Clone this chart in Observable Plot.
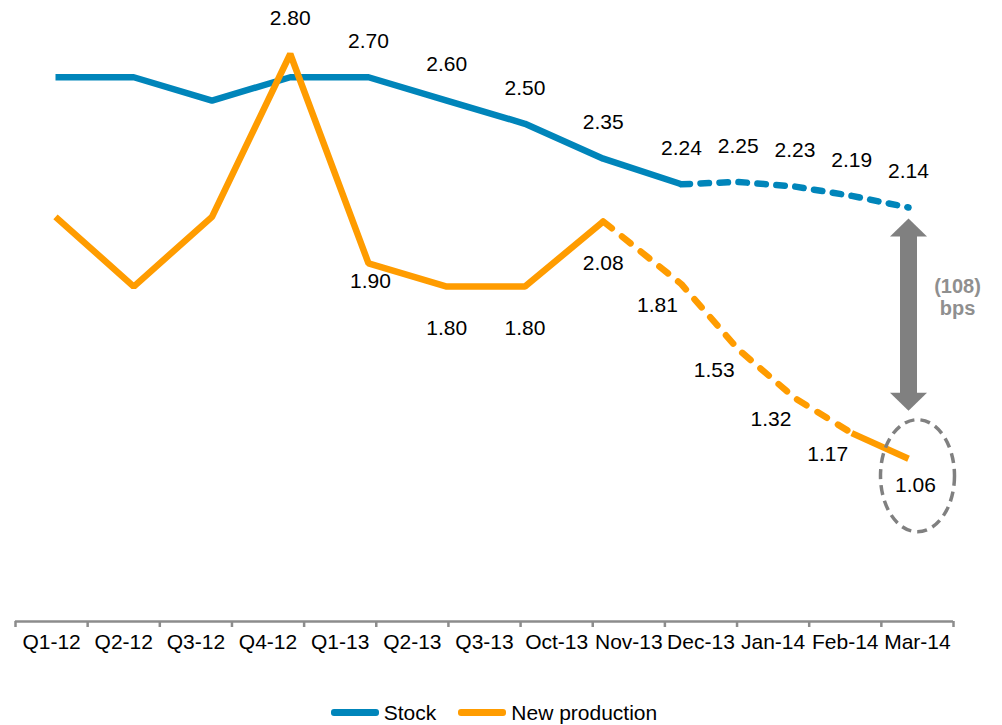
<!DOCTYPE html>
<html>
<head>
<meta charset="utf-8">
<script src="https://cdn.jsdelivr.net/npm/d3@7"></script>
<script src="https://cdn.jsdelivr.net/npm/@observablehq/plot@0.6"></script>
<style>
  html, body { margin: 0; padding: 0; background: #fff; overflow: hidden; }
  body { font-family: "Liberation Sans", Arial, sans-serif; }
  #wrap { position: relative; width: 1002px; height: 670px; }
  #wrap svg { position: absolute; left: 0; top: 0; }
  #legend { display: flex; justify-content: center; align-items: center; gap: 22px;
            padding-top: 30px; padding-right: 14px; height: 25px; font-size: 21px; color: #000; }
  .item { display: flex; align-items: center; }
  .sw { display: inline-block; width: 48px; height: 7px; border-radius: 3px; margin-right: 5px; }
</style>
</head>
<body>
<div id="wrap"></div>
<div id="legend"></div>
<script>
// ---------- data ----------
const categories = ["Q1-12","Q2-12","Q3-12","Q4-12","Q1-13","Q2-13","Q3-13","Oct-13","Nov-13","Dec-13","Jan-14","Feb-14","Mar-14"];
const stock      = [2.70, 2.70, 2.60, 2.70, 2.70, 2.60, 2.50, 2.35, 2.24, 2.25, 2.23, 2.19, 2.14];
const newProd    = [2.10, 1.80, 2.10, 2.80, 1.90, 1.80, 1.80, 2.08, 1.81, 1.53, 1.32, 1.17, 1.06];
const seriesNames = ["Stock", "New production"];
const stockDashFrom = 8;               // projected part of Stock
const newDashFrom = 7, newDashTo = 11; // projected (dashed) part of New production

// ---------- styles ----------
const BLUE = "#0085BA", ORANGE = "#FF9C00", GREY = "#808080", AXIS = "#8C8C8C";
const FONT = "'Liberation Sans', Arial, sans-serif";
const FS = 21;

const stockRows = stock.map((v, i) => ({i, v, cat: categories[i]}));
const newRows = newProd.map((v, i) => ({i, v, cat: categories[i]}));
const last = categories.length - 1;
const gap = [{i: last, top: stock[last], bottom: newProd[last],
              bps: Math.round((stock[last] - newProd[last]) * 100)}];

const k = 0.5523;
const ellipseSymbol = {draw(ctx) {
  const rx = 37, ry = 56;
  ctx.moveTo(rx, 0);
  ctx.bezierCurveTo(rx, ry * k, rx * k, ry, 0, ry);
  ctx.bezierCurveTo(-rx * k, ry, -rx, ry * k, -rx, 0);
  ctx.bezierCurveTo(-rx, -ry * k, -rx * k, -ry, 0, -ry);
  ctx.bezierCurveTo(rx * k, -ry, rx, -ry * k, rx, 0);
  ctx.closePath();
}};
const headUp = {draw(ctx) { ctx.moveTo(0, -9); ctx.lineTo(18.5, 9); ctx.lineTo(-18.5, 9); ctx.closePath(); }};
const headDown = {draw(ctx) { ctx.moveTo(0, 9); ctx.lineTo(18.5, -9); ctx.lineTo(-18.5, -9); ctx.closePath(); }};

const solid = {strokeWidth: 6.5, strokeLinejoin: "miter", strokeLinecap: "butt"};
const label = {x: "i", y: "v", text: d => d.v.toFixed(2), fontSize: FS, fill: "#000"};

const lines = Plot.plot({
  width: 1002, height: 670,
  marginTop: 0, marginBottom: 49,
  style: {fontFamily: FONT, fontSize: FS + "px", background: "transparent"},
  x: {type: "linear", domain: [0, 8, 12], range: [55, 681, 908], axis: null},
  y: {domain: [0.36, 3.03], axis: null},
  marks: [
    Plot.line(stockRows.filter(d => d.i <= stockDashFrom), {x: "i", y: "v", stroke: BLUE, ...solid}),
    Plot.line(stockRows.filter(d => d.i >= stockDashFrom), {x: "i", y: "v", stroke: BLUE, strokeWidth: 6.5, strokeLinecap: "round", strokeDasharray: "8.5,10.5"}),
    Plot.line(newRows.filter(d => d.i <= newDashFrom), {x: "i", y: "v", stroke: ORANGE, ...solid}),
    Plot.line(newRows.filter(d => d.i >= newDashFrom && d.i <= newDashTo), {x: "i", y: "v", stroke: ORANGE, strokeWidth: 6.5, strokeLinecap: "round", strokeDasharray: "11,13"}),
    Plot.line(newRows.filter(d => d.i >= newDashTo), {x: "i", y: "v", stroke: ORANGE, ...solid}),
    // data labels
    Plot.text(stockRows.filter(d => d.i >= 4), {...label, dy: -36}),
    Plot.text(newRows.filter(d => d.i === 3), {...label, dy: -36}),
    Plot.text(newRows.filter(d => d.i === 4), {...label, dx: 2, dy: 18}),
    Plot.text(newRows.filter(d => d.i >= 5 && d.i <= 7), {...label, dy: 42}),
    Plot.text(newRows.filter(d => d.i >= 8 && d.i < last), {...label, dx: -24, dy: 21}),
    Plot.text(newRows.filter(d => d.i === last), {...label, dx: 7, dy: 27}),
    // gap arrow
    Plot.ruleX(gap, {x: "i", y1: "top", y2: "bottom", stroke: GREY, strokeWidth: 17, insetTop: 27, insetBottom: 64}),
    Plot.dot(gap, {x: "i", y: "top", symbol: headUp, r: 10, fill: GREY, dy: 20}),
    Plot.dot(gap, {x: "i", y: "bottom", symbol: headDown, r: 10, fill: GREY, dy: -57}),
    Plot.text(gap, {x: "i", y: d => (d.top + d.bottom) / 2, text: d => `(${d.bps})\nbps`,
      dx: 49, dy: -36, fontSize: 20, fontWeight: "bold", fill: "#8F8F8F", lineHeight: 1.1}),
    Plot.dot(gap, {x: "i", y: "bottom", symbol: ellipseSymbol, r: 10, fill: "none", stroke: GREY,
      strokeWidth: 3.5, strokeDasharray: "10,6", dx: 9, dy: 17})
  ]
});

const axis = Plot.plot({
  width: 1002, height: 670,
  marginTop: 0, marginBottom: 49, marginLeft: 15, marginRight: 49,
  style: {fontFamily: FONT, fontSize: FS + "px", background: "transparent"},
  x: {type: "linear", domain: [0, categories.length]},
  y: {domain: [0, 1], axis: null},
  marks: [
    Plot.ruleY([0], {stroke: AXIS, strokeWidth: 2.5}),
    Plot.axisX({ticks: d3.range(categories.length + 1), tickSize: 6, tickFormat: () => "",
                stroke: AXIS, strokeWidth: 2.5}),
    Plot.text(categories, {x: (d, i) => i + 0.5, text: d => d, frameAnchor: "bottom",
                           lineAnchor: "top", dy: 13, fontSize: FS, fill: "#000"})
  ]
});

const wrap = document.getElementById("wrap");
wrap.appendChild(lines);
wrap.appendChild(axis);

const legend = document.getElementById("legend");
[[seriesNames[0], BLUE], [seriesNames[1], ORANGE]].forEach(([name, c]) => {
  const it = document.createElement("div");
  it.className = "item";
  it.innerHTML = `<span class="sw" style="background:${c}"></span><span>${name}</span>`;
  legend.appendChild(it);
});
</script>
</body>
</html>
